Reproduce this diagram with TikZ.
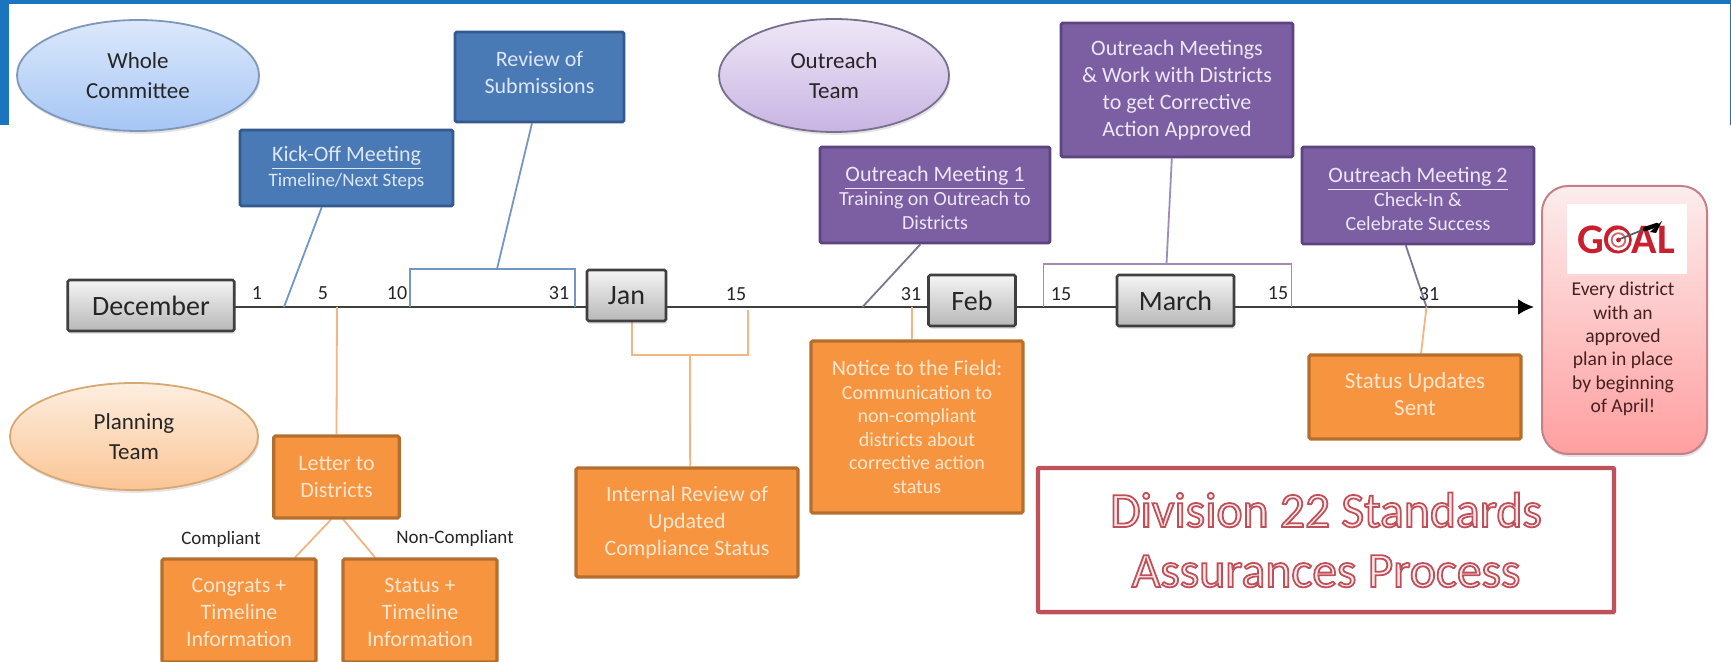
\documentclass[tikz,border=0pt]{standalone}
\usepackage{fontspec}
\setmainfont{Carlito}
\newfontfamily\titlefont[FakeBold=3.6]{Carlito}
\usetikzlibrary{shapes.geometric,arrows.meta,calc,shadows}
\definecolor{barblue}{HTML}{1A74BE}
\definecolor{bluefill}{HTML}{4A7AB6}
\definecolor{blueedge}{HTML}{33598F}
\definecolor{purpfill}{HTML}{7C5FA3}
\definecolor{purpedge}{HTML}{5B4480}
\definecolor{orfill}{HTML}{F79440}
\definecolor{oredge}{HTML}{B46F2E}
\definecolor{bluetext}{HTML}{DCE6F4}
\definecolor{purptext}{HTML}{EDE6F5}
\definecolor{ortext}{HTML}{FDE6CF}
\definecolor{inkdark}{HTML}{262626}
\definecolor{axisgrey}{HTML}{3F3F3F}
\definecolor{blueline}{HTML}{7397C4}
\definecolor{orline}{HTML}{F2B583}
\definecolor{purpline}{HTML}{9C8EB8}
\definecolor{greyline}{HTML}{7A7794}
\definecolor{titlered}{HTML}{C0505A}
\definecolor{goalred}{HTML}{C8202E}
\definecolor{wholetop}{HTML}{DCE8FB}
\definecolor{wholebot}{HTML}{A6C6F5}
\definecolor{wholeedge}{HTML}{7F97B8}
\definecolor{outtop}{HTML}{EEE7F6}
\definecolor{outbot}{HTML}{C8B4E3}
\definecolor{outedge}{HTML}{77708F}
\definecolor{plantop}{HTML}{FDEEDF}
\definecolor{planbot}{HTML}{FBC595}
\definecolor{planedge}{HTML}{D8A873}
\definecolor{goaledge}{HTML}{C48088}
\definecolor{goaltop}{HTML}{FCEDED}
\definecolor{goalbot}{HTML}{FF9FA0}
\pgfdeclarelayer{bg}
\pgfsetlayers{bg,main}
\tikzset{
  softshadow/.style={drop shadow={shadow xshift=0.6pt,shadow yshift=-1.4pt,opacity=.22}},
  tbox/.style={rectangle,draw,line width=1.4pt,inner sep=0pt,align=center,rounded corners=0.8pt,font=\fontsize{11}{13.5}\selectfont},
  bluebox/.style={tbox,fill=bluefill,draw=blueedge,text=bluetext},
  purpbox/.style={tbox,fill=purpfill,draw=purpedge,text=purptext},
  orbox/.style={tbox,fill=orfill,draw=oredge,text=ortext,line width=1.6pt},
  monthbox/.style={rectangle,draw=axisgrey,line width=1.3pt,top color=white!96!black,bottom color=black!28,inner sep=0pt,rounded corners=0.8pt,text=inkdark,font=\fontsize{14}{16}\selectfont,softshadow},
  teamoval/.style={ellipse,inner sep=0pt,line width=0.9pt,align=center,text=inkdark,font=\fontsize{11.5}{15}\selectfont,softshadow},
  tick/.style={inner sep=0pt,text=inkdark,font=\fontsize{10}{12}\selectfont},
  smalllabel/.style={inner sep=0pt,text=inkdark,font=\fontsize{9.5}{12}\selectfont},
  axisline/.style={draw=axisgrey,line width=1.2pt},
  bluelink/.style={draw=blueline,line width=0.9pt},
  orlink/.style={draw=orline,line width=0.9pt},
  purplink/.style={draw=purpline,line width=0.9pt},
}
\begin{document}
\begin{tikzpicture}[x=0.5pt,y=-0.5pt]
\useasboundingbox (0,0) rectangle (1731,662);
% frame
\fill[barblue] (0,0) rectangle (1731,4.5);
\fill[barblue] (0,0) rectangle (9,125);
\fill[barblue] (1729.5,0) rectangle (1731,125);
% ovals
\node[teamoval,draw=wholeedge,top color=wholetop,bottom color=wholebot,minimum width=121pt,minimum height=55.5pt] (whole) at (138,75.5) {Whole\\Committee};
\node[teamoval,draw=outedge,top color=outtop,bottom color=outbot,minimum width=115pt,minimum height=56.5pt] (outreach) at (834,75.5) {Outreach\\Team};
\node[teamoval,draw=planedge,top color=plantop,bottom color=planbot,minimum width=124pt,minimum height=53.5pt] (planning) at (134,436.5) {Planning\\Team};
% blue boxes
\node[bluebox,minimum width=106.5pt,minimum height=38pt,font=\fontsize{9.5}{12.5}\selectfont] (kick) at (346.5,168) {{\fontsize{11}{12.5}\selectfont\underline{Kick-Off Meeting}}\\Timeline/Next Steps};
\node[bluebox,minimum width=84.5pt,minimum height=45pt] (review) at (539.5,77) {Review of\\Submissions\rule[-5pt]{0pt}{0pt}};
% purple boxes
\node[purpbox,minimum width=115pt,minimum height=48pt,font=\fontsize{10}{12}\selectfont] (om1) at (935,195) {\rule{0pt}{11pt}{\fontsize{11}{12}\selectfont\underline{Outreach Meeting 1}}\\Training on Outreach to\\Districts};
\node[purpbox,minimum width=116pt,minimum height=67pt] (omw) at (1177,90) {Outreach Meetings\\\& Work with Districts\\to get Corrective\\Action Approved};
\node[purpbox,minimum width=116pt,minimum height=48.5pt,font=\fontsize{10}{12}\selectfont] (om2) at (1418,195.5) {\rule{0pt}{11pt}{\fontsize{11}{12}\selectfont\underline{Outreach Meeting 2}}\\Check-In \&\\Celebrate Success};
% orange boxes
\node[orbox,minimum width=62.75pt,minimum height=41pt] (letter) at (336.5,477) {Letter to\\Districts};
\node[orbox,minimum width=77pt,minimum height=51.5pt] (congrats) at (239,610.5) {\rule{0pt}{9.5pt}Congrats +\\Timeline\\Information};
\node[orbox,minimum width=77pt,minimum height=51.5pt] (statusp) at (420,610.5) {\rule{0pt}{9.5pt}Status +\\Timeline\\Information};
\node[orbox,minimum width=111pt,minimum height=54.5pt] (internal) at (687,522.5) {Internal Review of\\Updated\\Compliance Status};
\node[orbox,minimum width=106pt,minimum height=86pt,font=\fontsize{10}{11.75}\selectfont] (notice) at (917,427) {{\fontsize{11}{11.75}\selectfont Notice to the Field:}\\Communication to\\non-compliant\\districts about\\corrective action\\status};
\node[orbox,minimum width=106pt,minimum height=42pt,font=\fontsize{11.5}{13.5}\selectfont] (updates) at (1415,397) {Status Updates\\Sent\rule[-3.4pt]{0pt}{0pt}};
% months
\node[monthbox,minimum width=83.25pt,minimum height=25.5pt] (dec) at (151,305.5) {December\hspace{4pt}};
\node[monthbox,minimum width=39.5pt,minimum height=25.5pt] (jan) at (626.5,295.5) {Jan};
\node[monthbox,minimum width=43.5pt,minimum height=25.5pt] (feb) at (972,300.5) {Feb};
\node[monthbox,minimum width=58.5pt,minimum height=25.5pt] (mar) at (1175.5,300.5) {March};
% axis anchors
\coordinate (axisA) at (230,307);
\coordinate (axisEnd) at (1534,307);
\coordinate (tKick) at (284,307);
\coordinate (tFive) at (337,307);
\coordinate (tTen) at (410,307);
\coordinate (tThirtyOne) at (575,307);
\coordinate (brRevL) at (410,269);
\coordinate (brRevR) at (575,269);
\coordinate (brRevM) at (497,269);
\coordinate (brJanL) at (632,355);
\coordinate (brJanR) at (748,355);
\coordinate (brJanM) at (690,355);
\coordinate (tJanFifteen) at (748,310);
\coordinate (tOmOne) at (862.5,307);
\coordinate (tNotice) at (912,307);
\coordinate (brMarL) at (1043.5,264);
\coordinate (brMarR) at (1291.5,264);
\coordinate (brMarM) at (1166.5,264);
\coordinate (tMarL) at (1043.5,307);
\coordinate (tMarR) at (1291.5,307);
\coordinate (tEnd) at (1426.5,307);
\begin{pgfonlayer}{bg}
  \fill[white] (0,0) rectangle (1731,662);
  \draw[axisline,-{Latex[black,length=8pt,width=8pt]}] (axisA) -- (axisEnd);
  \path[bluelink] ($(kick.south west)!0.385!(kick.south east)$) -- (tKick);
  \path[bluelink] ($(review.south west)!0.456!(review.south east)$) -- (brRevM);
  \path[bluelink] (tTen) -- (brRevL) -- (brRevR) -- (tThirtyOne);
  \path[orlink] (tFive) -- (letter.north);
  \path[orlink] ($(letter.south west)!0.457!(letter.south east)$) -- ($(congrats.north west)!0.857!(congrats.north east)$);
  \path[orlink] ($(letter.south west)!0.553!(letter.south east)$) -- ($(statusp.north west)!0.214!(statusp.north east)$);
  \path[orlink] (jan.south -| brJanL) -- (brJanL) -- (brJanR) -- (tJanFifteen);
  \path[orlink] (brJanM) -- ($(internal.north west)!0.514!(internal.north east)$);
  \path[orlink] (tNotice) -- ($(notice.north west)!0.476!(notice.north east)$);
  \path[orlink] (tEnd) -- ($(updates.north west)!0.528!(updates.north east)$);
  \path[purplink,draw=greyline] ($(om1.south west)!0.437!(om1.south east)$) -- (tOmOne);
  \path[purplink] ($(omw.south west)!0.478!(omw.south east)$) -- (brMarM);
  \path[purplink] (tMarL) -- (brMarL) -- (brMarR) -- (tMarR);
  \path[purplink,draw=greyline] ($(om2.south west)!0.448!(om2.south east)$) -- (tEnd);
\end{pgfonlayer}
% day labels
\node[tick] (d1) at (257,293) {1};
\node[tick] (d5) at (323,293) {5};
\node[tick] (d10) at (397,293) {10};
\node[tick] (d31a) at (559,293) {31};
\node[tick] (d15a) at (736,294) {15};
\node[tick] (d31b) at (911,294) {31};
\node[tick] (d15b) at (1061,294) {15};
\node[tick] (d15c) at (1278,293) {15};
\node[tick] (d31c) at (1429,294) {31};
\node[smalllabel] (lcomp) at (221,539) {Compliant};
\node[smalllabel] (lnon) at (455,538) {Non-Compliant};
% goal
\node[rectangle,rounded corners=13pt,draw=goaledge,line width=1pt,top color=goaltop,bottom color=goalbot,minimum width=82.5pt,minimum height=134pt,softshadow] (goalbox) at (1624.5,320) {};
\node[rectangle,fill=white,inner sep=0pt,minimum width=60pt,minimum height=35pt] (goalpic) at (1627,239) {};
\node[inner sep=0pt,text=goalred,font=\fontsize{21}{21}\bfseries\selectfont] (goalword) at (1626,240) {GOAL};
\fill[white] (1618.5,240) circle (6pt);
\draw[goalred,line width=1.3pt] (1618.5,240) circle (6pt);
\draw[goalred!70,line width=0.9pt] (1618.5,240) circle (3.4pt);
\fill[goalred] (1618.5,240) circle (1.2pt);
\draw[gray!70!black,line width=0.8pt] (1620,239) -- (1645,229);
\draw[black,line width=2.2pt,line cap=round] (1645,229) -- (1657,225);
\fill[black] (1650,232) -- (1662,221) -- (1656,233) -- cycle;
\node[inner sep=0pt,align=center,text=inkdark!85!red,font=\fontsize{9.8}{11.7}\selectfont] (goaltext) at (1623,349) {Every district\\with an\\approved\\plan in place\\by beginning\\of April!};
% title
\node[rectangle,draw=titlered,line width=2.2pt,rounded corners=0.5pt,fill=white,inner sep=0pt,minimum width=288pt,minimum height=72pt,softshadow] (titlebox) at (1326,540) {};
\node[inner sep=0pt,align=center,font=\titlefont\fontsize{24.8}{30}\selectfont] (titletext) at (1326,540) {\color{white!92!red}\special{pdf:code 0.75 0.31 0.35 RG}Division 22 Standards\\\color{white!92!red}\special{pdf:code 0.75 0.31 0.35 RG}Assurances Process};
\end{tikzpicture}
\end{document}
